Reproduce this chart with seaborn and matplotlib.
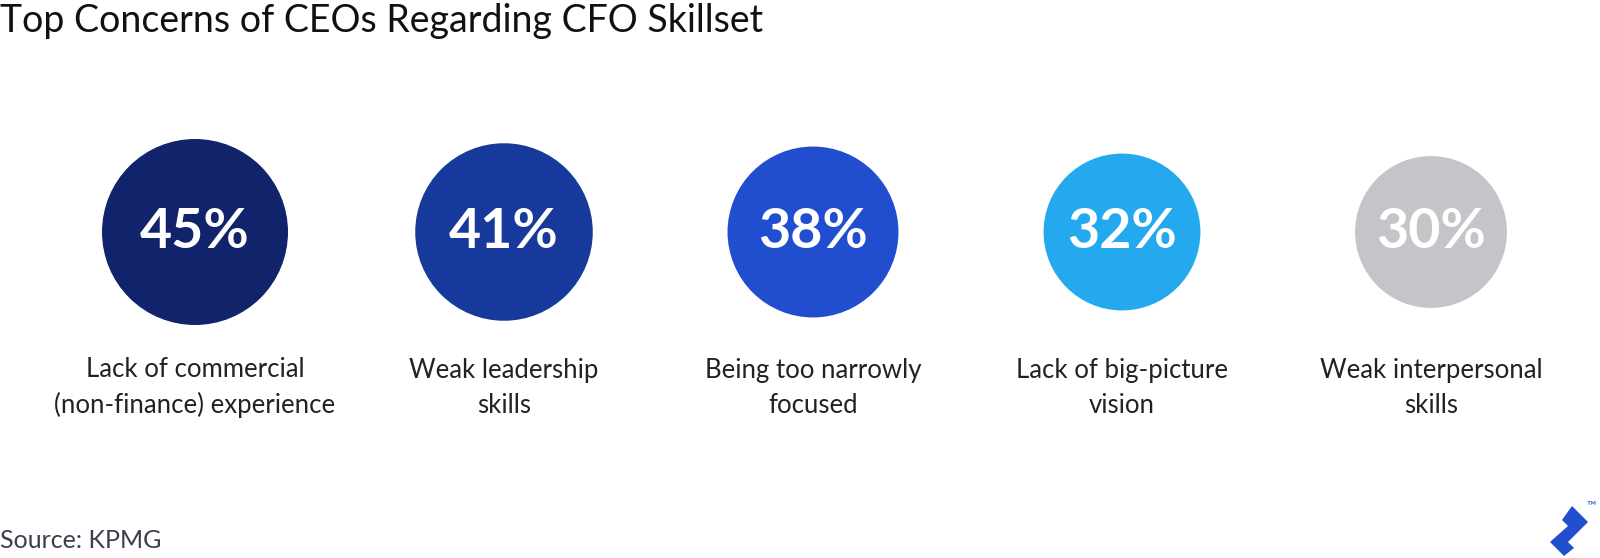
import numpy as np
import pandas as pd
import matplotlib.pyplot as plt
import seaborn as sns
from matplotlib.patches import Polygon

concerns = ['Lack of commercial\n(non-finance) experience',
            'Weak leadership\nskills',
            'Being too narrowly\nfocused',
            'Lack of big-picture\nvision',
            'Weak interpersonal\nskills']
shares = [45, 41, 38, 32, 30]
colors = ['#10236b', '#18399c', '#204ecf', '#24a9ef', '#c4c5c9']

df = pd.DataFrame({'concern': concerns, 'share': shares, 'pos': range(len(concerns))})

sns.set_style('white')
plt.rcParams['font.family'] = ['Lato', 'DejaVu Sans']

fig = plt.figure(figsize=(16, 5.58), dpi=100)
ax = fig.add_axes([0, 0, 1, 1])

# area of each bubble proportional to the share; 45% -> ~186 px across
max_s = (186 * 0.72) ** 2
sns.scatterplot(data=df, x='pos', y=0, hue='concern', palette=dict(zip(concerns, colors)),
                size='share', sizes=(0, max_s), size_norm=(0, max(shares)),
                linewidth=0, legend=False, ax=ax)

step = 309
ax.set_xlim(-195 / step, (1600 - 195) / step)
ax.set_ylim(-(558 - 232), 232)
ax.axis('off')

for i, row in df.iterrows():
    ax.text(row['pos'], 0, f"{row['share']}%", ha='center', va='center',
            color='white', fontsize=40, fontweight='bold')
    ax.annotate(row['concern'], (row['pos'], 0), xytext=(0, -112), textcoords='offset points',
                ha='center', va='center', multialignment='center',
                fontsize=18.5, color='#222222', linespacing=1.5)

fig.text(0.0, 1 - 21 / 558, 'Top Concerns of CEOs Regarding CFO Skillset',
         ha='left', va='center', fontsize=27, color='#111111')
fig.text(0.0, 1 - 540 / 558, 'Source: KPMG', ha='left', va='center',
         fontsize=18, color='#3a3f4b')

# small logo mark in the corner
logo = np.array([[1572, 506], [1588, 522], [1568, 542], [1574, 548], [1564, 556],
                 [1550, 542], [1568, 526], [1562, 520]], dtype=float)
logo[:, 1] = 558 - logo[:, 1]
fig.patches.append(Polygon(logo / [1600, 558], closed=True, transform=fig.transFigure,
                           facecolor='#204ecf', edgecolor='none'))
fig.text(1591 / 1600, 1 - 505 / 558, '™', fontsize=9, color='#204ecf', ha='center', va='center')

fig.savefig('out.png', dpi=100)
